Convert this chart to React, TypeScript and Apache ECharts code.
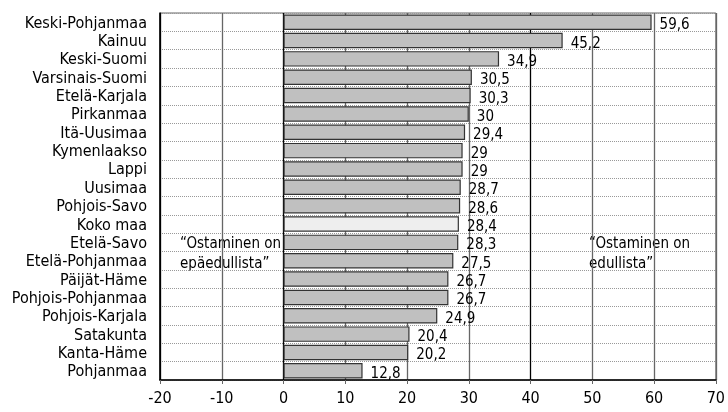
import React, { useEffect, useRef } from "react";
import * as echarts from "echarts";

const categories = [
  "Keski-Pohjanmaa", "Kainuu", "Keski-Suomi", "Varsinais-Suomi", "Etelä-Karjala",
  "Pirkanmaa", "Itä-Uusimaa", "Kymenlaakso", "Lappi", "Uusimaa", "Pohjois-Savo",
  "Koko maa", "Etelä-Savo", "Etelä-Pohjanmaa", "Päijät-Häme", "Pohjois-Pohjanmaa",
  "Pohjois-Karjala", "Satakunta", "Kanta-Häme", "Pohjanmaa",
];
const values = [
  59.6, 45.2, 34.9, 30.5, 30.3, 30, 29.4, 29, 29, 28.7, 28.6,
  28.4, 28.3, 27.5, 26.7, 26.7, 24.9, 20.4, 20.2, 12.8,
];
const highlightCategory = "Koko maa";
const leftNote = ["“Ostaminen on", "epäedullista”"];
const rightNote = ["“Ostaminen on", "edullista”"];

const FONT = "'Liberation Sans Narrow', 'DejaVu Sans Condensed', 'Roboto Condensed', sans-serif";

export default function App() {
  const ref = useRef<HTMLDivElement>(null);
  useEffect(() => {
    if (!ref.current) return;
    const chart = echarts.init(ref.current, undefined, { renderer: "svg" });
    chart.setOption({
      animation: false,
      textStyle: { fontFamily: FONT },
      grid: {
        left: 160, right: 8, top: 13, bottom: 32,
        show: true, borderColor: "#666", borderWidth: 1,
      },
      xAxis: {
        type: "value", min: -20, max: 70, interval: 10,
        axisLine: { show: true, onZero: false, lineStyle: { color: "#000", width: 1.5 } },
        axisTick: { show: true, length: 4, lineStyle: { color: "#666" } },
        axisLabel: { color: "#000", fontSize: 16, fontFamily: FONT, margin: 9 },
        splitLine: {
          show: true,
          lineStyle: {
            color: ["#000", "#666", "#000", "#666", "#666", "#666", "#000", "#666", "#666", "#666"],
            width: 1.3,
          },
        },
      },
      yAxis: {
        type: "category", data: categories, inverse: true,
        axisLine: { show: true, onZero: false, lineStyle: { color: "#000", width: 1.5 } },
        axisTick: { show: false },
        axisLabel: { color: "#000", fontSize: 16, fontFamily: FONT, margin: 13, interval: 0 },
        splitLine: { show: true, interval: 0, lineStyle: { color: "#999", type: [1, 1], width: 1 } },
      },
      series: [
        {
          type: "bar",
          barWidth: "84%",
          data: values.map((v, i) => ({
            value: v,
            itemStyle: {
              color: categories[i] === highlightCategory ? "#eeeeee" : "#c0c0c0",
              borderColor: "#333",
              borderWidth: 1.2,
            },
          })),
          label: {
            show: true, position: "right", distance: 8, offset: [0, 2],
            color: "#000", fontSize: 15, fontFamily: FONT,
            formatter: (p: any) => String(p.value).replace(".", ","),
          },
        },
      ],
      graphic: [
        { type: "text", left: 180, top: 235, style: { text: leftNote[0], fontSize: 15, fontFamily: FONT, fill: "#000" } },
        { type: "text", left: 180, top: 255, style: { text: leftNote[1], fontSize: 15, fontFamily: FONT, fill: "#000" } },
        { type: "text", left: 589, top: 235, style: { text: rightNote[0], fontSize: 15, fontFamily: FONT, fill: "#000" } },
        { type: "text", left: 589, top: 255, style: { text: rightNote[1], fontSize: 15, fontFamily: FONT, fill: "#000" } },
      ],
    });
    return () => chart.dispose();
  }, []);
  return <div ref={ref} style={{ width: 728, height: 412, position: "fixed", left: 0, top: 0 }} />;
}
